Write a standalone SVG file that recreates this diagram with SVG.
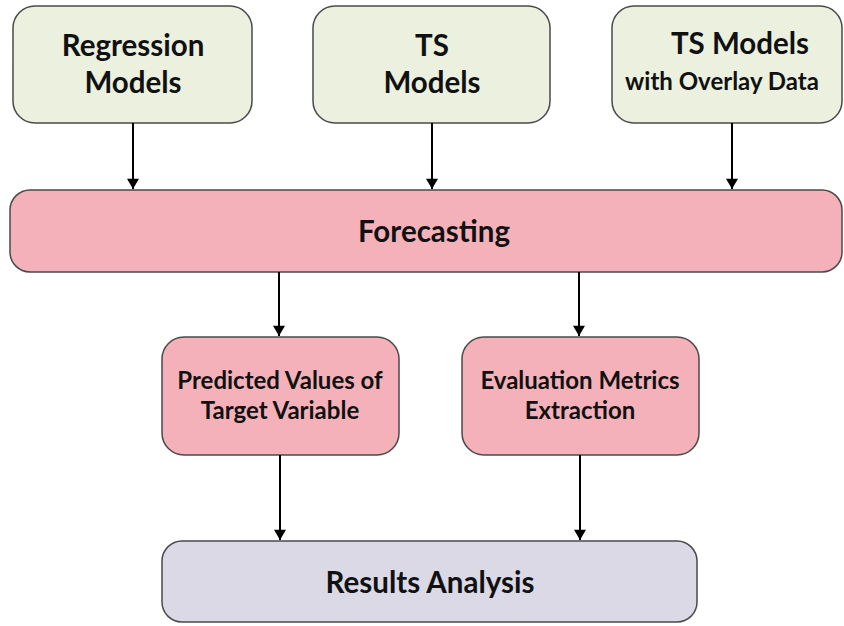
<svg xmlns="http://www.w3.org/2000/svg" width="844" height="626" viewBox="0 0 844 626">
<style>
.box{stroke:#4a4a4a;stroke-width:1.5}
.g{fill:#ebf1de}
.p{fill:#f5b1b9}
.v{fill:#dcd9e6}
text{font-family:Lato,"Open Sans","Liberation Sans",sans-serif;font-weight:bold;fill:#111;text-anchor:middle}
.big{font-size:29.5px}
.mid{font-size:24px}
.edge{stroke:#000;stroke-width:2;fill:none;marker-end:url(#ah)}
</style>
<defs>
<marker id="ah" viewBox="0 0 12 14" refX="12" refY="7" markerWidth="14" markerHeight="12" markerUnits="userSpaceOnUse" orient="auto">
<path d="M0,0 L12,7 L0,14 Z" fill="#000"/>
</marker>
</defs>
<rect width="844" height="626" fill="#fff"/>
<g id="regression">
<rect class="box g" x="13" y="6" width="239" height="117" rx="22"/>
<text class="big" x="133" y="56">Regression</text>
<text class="big" x="133" y="93">Models</text>
</g>
<g id="ts">
<rect class="box g" x="313" y="6" width="237" height="117" rx="22"/>
<text class="big" x="432" y="56">TS</text>
<text class="big" x="432" y="93">Models</text>
</g>
<g id="tsoverlay">
<rect class="box g" x="612" y="6" width="230" height="117" rx="22"/>
<text class="big" x="740" y="54">TS Models</text>
<text class="mid" x="722" y="90">with Overlay Data</text>
</g>
<g id="forecasting">
<rect class="box p" x="10" y="190" width="832" height="82" rx="20"/>
<text class="big" x="434" y="242">Forecasting</text>
</g>
<g id="predicted">
<rect class="box p" x="162" y="337" width="237" height="118" rx="22"/>
<text class="mid" x="280" y="389">Predicted Values of</text>
<text class="mid" x="280" y="419">Target Variable</text>
</g>
<g id="evaluation">
<rect class="box p" x="462" y="337" width="237" height="118" rx="22"/>
<text class="mid" x="580" y="389">Evaluation Metrics</text>
<text class="mid" x="580" y="419">Extraction</text>
</g>
<g id="results">
<rect class="box v" x="162" y="541" width="535" height="81" rx="20"/>
<text class="big" x="430" y="593">Results Analysis</text>
</g>
<g id="connectors">
<path class="edge" d="M133,123 V189"/>
<path class="edge" d="M432,123 V189"/>
<path class="edge" d="M732,123 V189"/>
<path class="edge" d="M279,272 V336"/>
<path class="edge" d="M579,272 V336"/>
<path class="edge" d="M280,455 V540"/>
<path class="edge" d="M580,455 V540"/>
</g>
</svg>
